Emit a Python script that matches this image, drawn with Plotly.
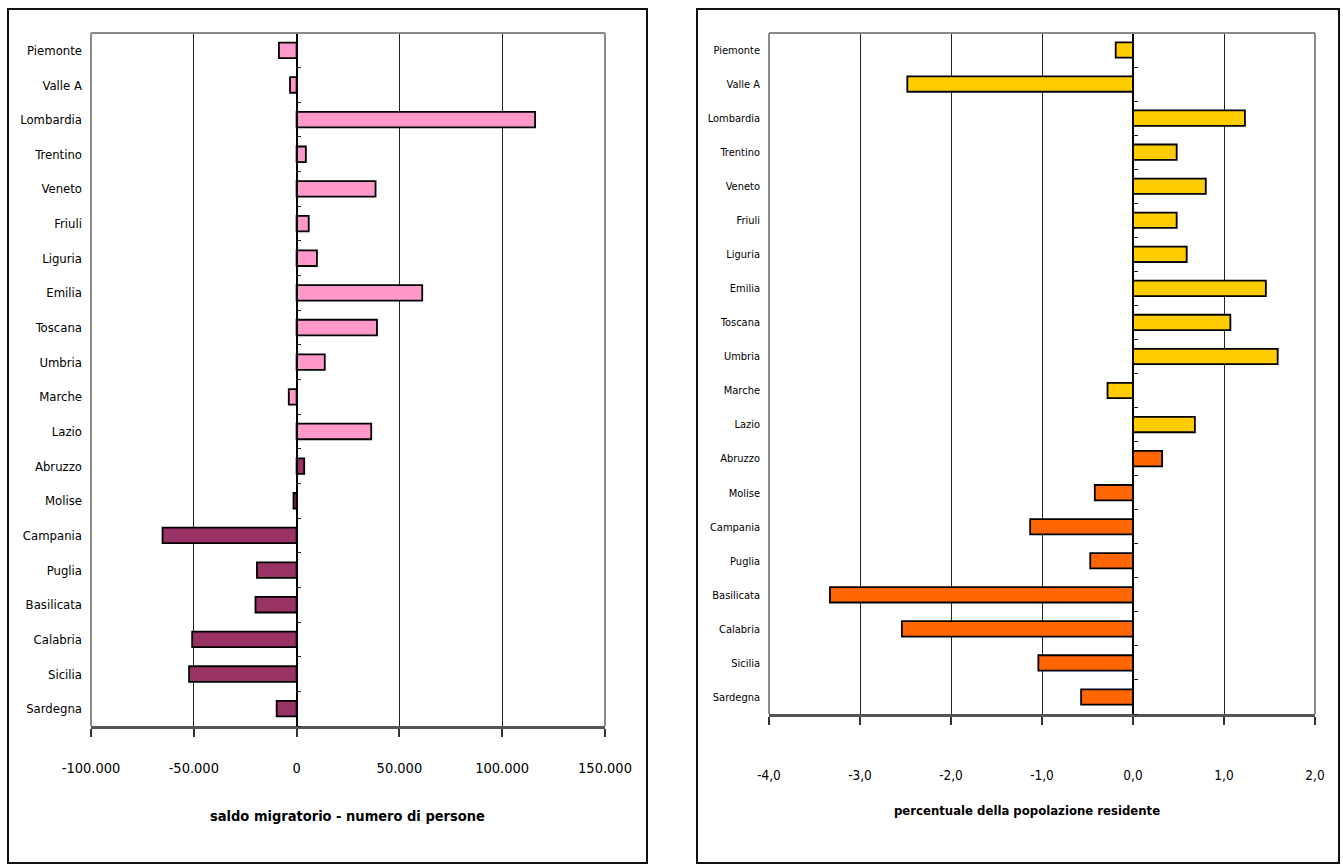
import plotly.graph_objects as go

# Regions, top to bottom
regioni = ["Piemonte", "Valle A", "Lombardia", "Trentino", "Veneto", "Friuli", "Liguria",
           "Emilia", "Toscana", "Umbria", "Marche", "Lazio", "Abruzzo", "Molise", "Campania",
           "Puglia", "Basilicata", "Calabria", "Sicilia", "Sardegna"]
# macro-area of each region (Centro-Nord / Mezzogiorno)
area = ["CN"] * 12 + ["MZ"] * 8

# net migration, number of people
saldo_persone = [-8600, -3200, 116000, 4500, 38400, 5900, 9900, 61100, 39100, 13700,
                 -3800, 36300, 3700, -1500, -65200, -19300, -20000, -50800, -52300, -9700]
# net migration as % of resident population
saldo_perc = [-0.19, -2.48, 1.23, 0.48, 0.80, 0.48, 0.59, 1.46, 1.07, 1.59,
              -0.28, 0.68, 0.32, -0.42, -1.13, -0.47, -3.33, -2.54, -1.04, -0.57]

tick_persone = [-100000, -50000, 0, 50000, 100000, 150000]
tick_persone_txt = ["-100.000", "-50.000", "0", "50.000", "100.000", "150.000"]
tick_perc = [-4, -3, -2, -1, 0, 1, 2]
tick_perc_txt = ["-4,0", "-3,0", "-2,0", "-1,0", "0,0", "1,0", "2,0"]

titolo_sx = "saldo migratorio - numero di persone"
titolo_dx = "percentuale della popolazione residente"

colori_sx = {"CN": "#FF99CC", "MZ": "#993366"}
colori_dx = {"CN": "#FFCC00", "MZ": "#FF6600"}

FONT = "DejaVu Sans Condensed, Liberation Sans Narrow, sans-serif"
W, H = 1343, 865

# plot areas in pixels: (left, right, top, bottom)
box_sx = (91, 605, 33, 726)
box_dx = (769, 1315, 33, 714)
rng_sx = [tick_persone[0], tick_persone[-1]]
rng_dx = [tick_perc[0], tick_perc[-1]]


def dom_x(b):
    return [b[0] / W, b[1] / W]


def dom_y(b):
    return [1 - b[3] / H, 1 - b[2] / H]


def zero_pos(b, rng):
    d = dom_x(b)
    return d[0] + (0 - rng[0]) / (rng[1] - rng[0]) * (d[1] - d[0])


fig = go.Figure()
fig.add_trace(go.Bar(
    y=regioni, x=saldo_persone, orientation="h", xaxis="x", yaxis="y",
    marker=dict(color=[colori_sx[a] for a in area], line=dict(color="black", width=1.8)),
    showlegend=False))
fig.add_trace(go.Bar(
    y=regioni, x=saldo_perc, orientation="h", xaxis="x2", yaxis="y2",
    marker=dict(color=[colori_dx[a] for a in area], line=dict(color="black", width=1.8)),
    showlegend=False))
# carriers for the zero-line axes with category ticks
fig.add_trace(go.Scatter(x=[], y=[], xaxis="x", yaxis="y3", showlegend=False, hoverinfo="skip"))
fig.add_trace(go.Scatter(x=[], y=[], xaxis="x2", yaxis="y4", showlegend=False, hoverinfo="skip"))

n = len(regioni)
bounds = [i - 0.5 for i in range(n + 1)]

xcommon = dict(showgrid=True, gridcolor="#222222", gridwidth=1, zeroline=False,
               showline=True, linecolor="#555555", linewidth=2.5, automargin=False,
               ticks="outside", ticklen=8, tickwidth=1.5, tickcolor="#333333")
ycat = dict(type="category", categoryorder="array", categoryarray=regioni,
            autorange="reversed", showgrid=False, zeroline=False, showline=False,
            ticks="", ticklabelstandoff=8, automargin=False)
ytick = dict(anchor="free", side="right", range=[n - 0.5, -0.5], automargin=False,
             tickmode="array", tickvals=bounds, showticklabels=False, ticks="outside",
             ticklen=4, tickwidth=1.2, tickcolor="#222222", showline=True,
             linecolor="black", linewidth=1.5, showgrid=False, zeroline=False)

fig.update_layout(
    template="none",
    width=W, height=H, autosize=False, margin=dict(l=0, r=0, t=0, b=0, pad=0),
    paper_bgcolor="white", plot_bgcolor="white", bargap=0.55,
    font=dict(family=FONT, color="black"),
    xaxis=dict(domain=dom_x(box_sx), range=rng_sx, anchor="y", tickmode="array",
               tickvals=tick_persone, ticktext=tick_persone_txt, ticklabelstandoff=19,
               tickfont=dict(family=FONT, size=14.5, color="black"), **xcommon),
    yaxis=dict(domain=dom_y(box_sx), anchor="x",
               tickfont=dict(family=FONT, size=13, color="black"), **ycat),
    xaxis2=dict(domain=dom_x(box_dx), range=rng_dx, anchor="y2", tickmode="array",
                tickvals=tick_perc, ticktext=tick_perc_txt, ticklabelstandoff=39,
                tickfont=dict(family=FONT, size=13.5, color="black"), **xcommon),
    yaxis2=dict(domain=dom_y(box_dx), anchor="x2",
                tickfont=dict(family=FONT, size=11, color="black"), **ycat),
    yaxis3=dict(domain=dom_y(box_sx), position=zero_pos(box_sx, rng_sx),
                overlaying="y", **ytick),
    yaxis4=dict(domain=dom_y(box_dx), position=zero_pos(box_dx, rng_dx),
                overlaying="y2", **ytick),
)

shapes = []
# grey frame (left, top, right) of each plot area
for xr, yr in (("x domain", "y domain"), ("x2 domain", "y2 domain")):
    for x0, y0, x1, y1 in ((0, 0, 0, 1), (0, 1, 1, 1), (1, 1, 1, 0)):
        shapes.append(dict(type="line", xref=xr, yref=yr, x0=x0, y0=y0, x1=x1, y1=y1,
                           line=dict(color="#8a8a8a", width=2), layer="above"))
# outer chart borders
for x0, x1 in ((8, 647), (697, 1339)):
    shapes.append(dict(type="rect", xref="paper", yref="paper",
                       x0=x0 / W, x1=x1 / W, y0=1 - 863 / H, y1=1 - 9 / H,
                       line=dict(color="#111111", width=2), fillcolor="rgba(0,0,0,0)",
                       layer="below"))
fig.update_layout(shapes=shapes)

fig.add_annotation(text="<b>" + titolo_sx + "</b>", xref="paper", yref="paper",
                   x=347 / W, y=1 - 816 / H, xanchor="center", yanchor="middle",
                   showarrow=False, font=dict(family=FONT, size=14.5, color="black"))
fig.add_annotation(text="<b>" + titolo_dx + "</b>", xref="paper", yref="paper",
                   x=1027 / W, y=1 - 810 / H, xanchor="center", yanchor="middle",
                   showarrow=False, font=dict(family=FONT, size=13, color="black"))

fig.write_html("out.html")
